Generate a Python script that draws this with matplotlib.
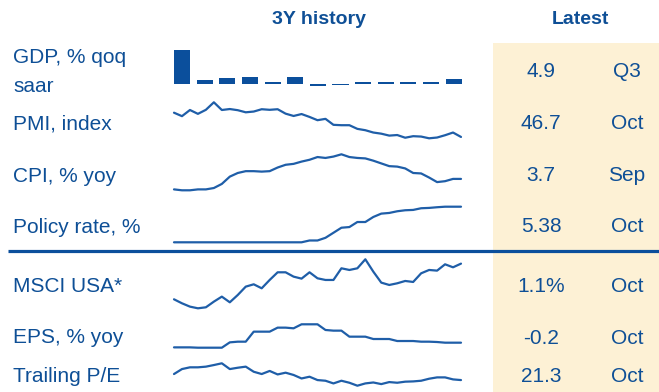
import matplotlib
matplotlib.use("Agg")
import matplotlib.pyplot as plt
from matplotlib.patches import Rectangle

W, H = 659, 392
plt.rcParams['font.family'] = ['Liberation Sans', 'DejaVu Sans']

# quarterly real GDP, % qoq saar (Q3 2020 .. Q3 2023)
gdp = [33.8, 4.5, 6.3, 7.0, 2.7, 7.0, -2.0, -0.6, 2.7, 2.6, 2.2, 2.1, 4.9]
# monthly series, 3 years
pmi = [59.3, 57.5, 60.7, 58.7, 60.8, 64.7, 60.7, 61.2, 60.6, 59.5, 59.9, 61.1,
       60.8, 61.1, 58.8, 57.6, 58.6, 57.1, 55.4, 56.1, 53.0, 52.8, 52.8, 50.9,
       50.2, 49.0, 48.4, 47.4, 47.7, 46.3, 47.1, 46.9, 46.0, 46.4, 47.6, 49.0, 46.7]
cpi = [1.4, 1.2, 1.2, 1.4, 1.4, 1.7, 2.6, 4.2, 5.0, 5.4, 5.4, 5.3, 5.4, 6.2,
       6.8, 7.0, 7.5, 7.9, 8.5, 8.3, 8.6, 9.1, 8.5, 8.3, 8.2, 7.7, 7.1, 6.5,
       6.4, 6.0, 5.0, 4.9, 4.0, 3.0, 3.2, 3.7, 3.7]
policy = [0.08] * 17 + [0.35, 0.35, 0.75, 1.5, 2.25, 2.35, 3.1, 3.1, 3.85, 4.35,
                        4.45, 4.7, 4.85, 4.9, 5.15, 5.2, 5.3, 5.38, 5.38, 5.38]
# MSCI USA, relative level
msci = [27, 15, 5, 0, 3, 20, 35, 18, 40, 65, 72, 60, 85, 108, 108, 95, 89, 108,
        90, 85, 85, 120, 115, 120, 147, 110, 77, 70, 75, 82, 79, 105, 115, 113,
        132, 123, 134]
eps = [-14.2, -14.2, -14.2, -15.2, -15.2, -15.2, -15.2, 0.8, 2.8, 2.8, 32.8,
       32.8, 32.8, 44.8, 44.8, 42.8, 54.8, 54.8, 54.8, 37.8, 35.8, 35.8, 17.8,
       17.8, 17.8, 10.8, 10.8, 10.8, 4.8, 4.8, 4.8, 2.8, 2.8, 1.8, -0.2, -0.2, -0.2]
pe = [23.55, 25.4, 26.05, 26.05, 26.3, 26.9, 27.55, 25.4, 25.9, 26.3, 24.4,
      23.55, 24.7, 23.4, 24.05, 23.2, 21.9, 22.55, 21.3, 21.05, 20.05, 21.05,
      20.3, 19.2, 20.05, 20.4, 19.8, 20.55, 20.3, 20.7, 20.8, 21.05, 21.8, 22.3,
      22.3, 21.55, 21.3]

labels = ["GDP, % qoq\nsaar", "PMI, index", "CPI, % yoy", "Policy rate, %",
          "MSCI USA*", "EPS, % yoy", "Trailing P/E"]
latest = ["4.9", "46.7", "3.7", "5.38", "1.1%", "-0.2", "21.3"]
periods = ["Q3", "Oct", "Sep", "Oct", "Oct", "Oct", "Oct"]

txt_col = "#0e4f96"
line_col = "#1f5ea8"
bar_col = "#0b4f9c"

fig = plt.figure(figsize=(W / 100, H / 100), dpi=100)

# background axes in pixel coordinates
bg = fig.add_axes([0, 0, 1, 1])
bg.set_xlim(0, W)
bg.set_ylim(H, 0)
bg.axis('off')

bg.add_patch(Rectangle((493, 43), W - 493, H - 43, color="#fdf1d5", lw=0, zorder=0))
bg.plot([8, W], [251, 251], color=bar_col, lw=2.3, solid_capstyle='butt', zorder=2)

bg.text(319, 23.5, "3Y history", ha='center', va='baseline', fontsize=14,
        fontweight='bold', color=txt_col)
bg.text(580.5, 23.5, "Latest", ha='center', va='baseline', fontsize=14,
        fontweight='bold', color=txt_col)

label_y = [62.7, 130, 181.7, 232.7, 292.3, 343.3, 381.7]
value_y = [76.7, 129, 181, 232.3, 292.3, 344, 381.7]
for lab, y in zip(labels, label_y):
    for k, part in enumerate(lab.split("\n")):
        bg.text(13, y + 29 * k, part, ha='left', va='baseline', fontsize=15,
                color=txt_col)
for val, per, y in zip(latest, periods, value_y):
    bg.text(541, y, val, ha='center', va='baseline', fontsize=15, color=txt_col)
    bg.text(627, y, per, ha='center', va='baseline', fontsize=15, color=txt_col)


def px_axes(x0, y0, x1, y1):
    return fig.add_axes([x0 / W, 1 - y1 / H, (x1 - x0) / W, (y1 - y0) / H])


# GDP bars
ax = px_axes(170.7, 50, 465, 86.3)
ax.bar(range(len(gdp)), gdp, width=0.71, color=bar_col)
ax.set_xlim(-0.5, len(gdp) - 0.5)
ax.set_ylim(-2, 33.8)
ax.axis('off')

# sparklines: (series, top px, bottom px)
rows = [(pmi, 102.3, 138.3), (cpi, 154.3, 190.3), (policy, 206.7, 242.3),
        (msci, 259.3, 308.3), (eps, 324.3, 347.7), (pe, 363.3, 385.7)]
for series, top, bot in rows:
    ax = px_axes(174, top, 461, bot)
    ax.plot(range(len(series)), series, color=line_col, lw=1.6, clip_on=False,
            solid_joinstyle='round', solid_capstyle='round')
    ax.set_xlim(0, len(series) - 1)
    ax.set_ylim(min(series), max(series))
    ax.axis('off')

fig.savefig("out.png", dpi=100)
